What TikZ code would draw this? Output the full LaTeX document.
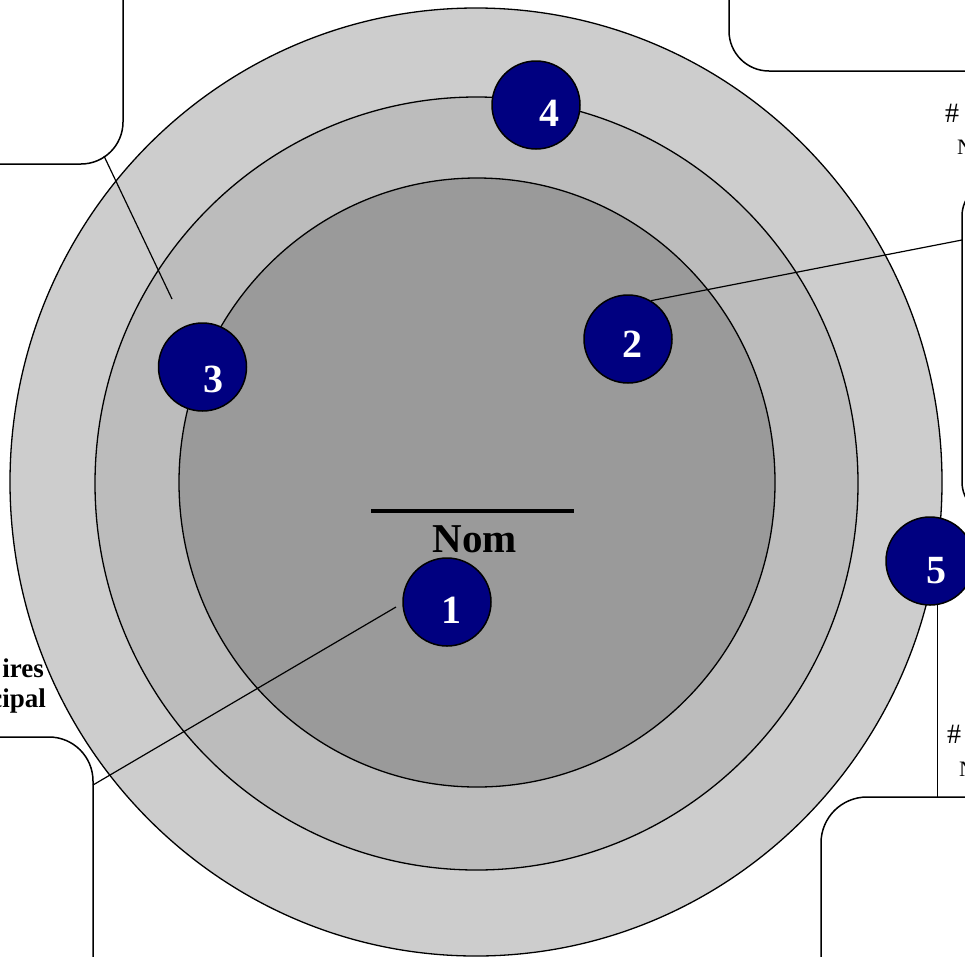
\documentclass[tikz,border=0pt]{standalone}
\usepackage{fontspec}
\setmainfont{Liberation Serif}
\begin{document}
\begin{tikzpicture}[x=1pt,y=-1pt,
  ringline/.style={draw=black,line width=1.3pt},
  callout/.style={draw=black,fill=white,line width=1.5pt},
  link/.style={draw=black,line width=1.2pt},
  bubble/.style={circle,draw=black,line width=1.5pt,fill=navyblue,
    minimum size=88pt,inner sep=0pt},
  digit/.style={anchor=base,text=white,font=\fontsize{40}{42}\selectfont\bfseries,inner sep=0pt},
  sidetext/.style={font=\fontsize{27}{30}\selectfont\bfseries,inner sep=0pt},
  edgetext/.style={inner sep=0pt}]
\definecolor{navyblue}{HTML}{000080}
\definecolor{ringouter}{HTML}{CDCDCD}
\definecolor{ringmid}{HTML}{BCBCBC}
\definecolor{ringinner}{HTML}{9A9A9A}

\useasboundingbox (0,0) rectangle (965,956);
\clip (0,0) rectangle (965,956);

% concentric rings
\path[ringline,fill=ringouter] (476,482) ellipse [x radius=466, y radius=474];
\path[ringline,fill=ringmid] (476.5,483.5) ellipse [x radius=381.5, y radius=386.5];
\path[ringline,fill=ringinner] (477,482.5) ellipse [x radius=298, y radius=304.5];

% title with rule above it
\coordinate (ruleL) at (371,511);
\coordinate (ruleR) at (574,511);
\draw[line width=4pt] (ruleL) -- (ruleR);
\node[anchor=base,inner sep=0pt,font=\fontsize{41}{44}\selectfont\bfseries] (title) at (475,552) {Nom};

% callout boxes (partly outside the page)
\path[callout,rounded corners=42pt] (-80,-80) rectangle (123,164);
\path[callout,rounded corners=40pt] (729,-80) rectangle (1080,71);
\path[callout,rounded corners=34pt] (962,182) rectangle (1100,516);
\path[callout,rounded corners=44pt] (-80,737) rectangle (93,1040);
\path[callout,rounded corners=46pt] (821,797) rectangle (1080,1040);

% connector end points
\coordinate (tlCorner) at (104,156);
\coordinate (tlTip) at (172,299);
\coordinate (rEdge) at (962,240);
\coordinate (blEdge) at (93,785);
\coordinate (oneTip) at (396,607);
\coordinate (brTop) at (937,797);

% numbered markers
\node[bubble] (n1) at (447,602) {};
\node[bubble] (n2) at (628,339) {};
\node[bubble] (n3) at (202.5,367) {};
\node[bubble] (n4) at (536,105) {};
\node[bubble] (n5) at (930,561) {};

\node[digit] (d1) at (451,623) {1};
\node[digit] (d2) at (632,357) {2};
\node[digit] (d3) at (213,392) {3};
\node[digit] (d4) at (549,126) {4};
\node[digit] (d5) at (936,583) {5};

% connectors
\draw[link] (tlCorner) -- (tlTip);
\draw[link] (n2.59) -- (rEdge);
\draw[link] (oneTip) -- (blEdge);
\draw[link] (n5.-80) -- (n5.-80 |- brTop);

% side labels
\node[sidetext,anchor=base east] (lab1) at (44,677) {ires};
\node[sidetext,anchor=base east] (lab2) at (46,707) {cipal};
\node[edgetext,anchor=base west,font=\fontsize{28}{32}\selectfont] (hashA) at (945,122) {\#};
\node[edgetext,anchor=base west,font=\fontsize{22}{26}\selectfont] (nA) at (957,154) {N};
\node[edgetext,anchor=base west,font=\fontsize{28}{32}\selectfont] (hashB) at (947,743) {\#};
\node[edgetext,anchor=base west,font=\fontsize{22}{26}\selectfont] (nB) at (959,776) {N};
\end{tikzpicture}
\end{document}
